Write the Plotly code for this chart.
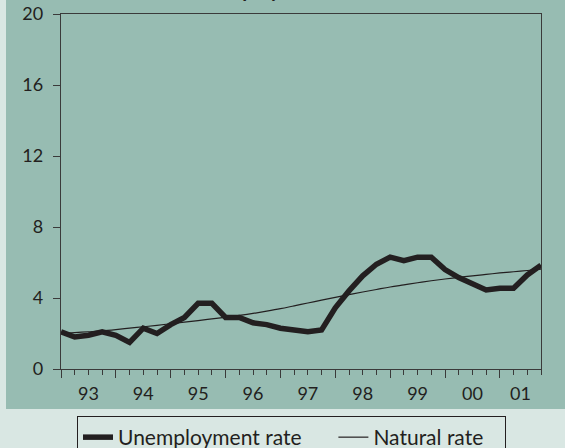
import plotly.graph_objects as go

# Quarterly data, 1993 Q1 .. 2001 Q4
quarters = list(range(36))
unemployment = [2.1, 1.8, 1.9, 2.1, 1.9, 1.5, 2.3, 2.0, 2.5, 2.9, 3.7, 3.7,
                2.9, 2.9, 2.6, 2.5, 2.3, 2.2, 2.1, 2.2, 3.45, 4.4, 5.25, 5.9,
                6.3, 6.1, 6.3, 6.3, 5.6, 5.15, 4.8, 4.45, 4.55, 4.55, 5.3, 5.85]
natural = [2.0, 2.05, 2.1, 2.15, 2.22, 2.3, 2.38, 2.46, 2.55, 2.64, 2.73, 2.82,
           2.92, 3.02, 3.13, 3.26, 3.4, 3.56, 3.72, 3.88, 4.04, 4.19, 4.34, 4.48,
           4.62, 4.74, 4.86, 4.97, 5.07, 5.16, 5.25, 5.33, 5.41, 5.48, 5.55, 5.62]
series_names = ["Unemployment rate", "Natural rate"]
year_labels = ["93", "94", "95", "96", "97", "98", "99", "00", "01"]
year_label_pos = [2, 6, 10, 14, 18, 22, 26, 30, 33.5]
year_starts = [0, 4, 8, 12, 16, 20, 24, 28, 32]
y_ticks = [0, 4, 8, 12, 16, 20]

GREEN = "#97bcb2"
LIGHT = "#d9e7e3"
INK = "#231f20"
AXIS = "#3a3a3a"
FONT = "Lato"
NBSP = "\u00a0"

W, H = 565, 448
ML, MR, MT, MB = 61, 24, 14, 79
pw, ph = W - ML - MR, H - MT - MB

def px2paper_x(p):
    return (p - ML) / pw

def px2paper_y(p):
    return (H - MB - p) / ph

fig = go.Figure()
fig.add_trace(go.Scatter(x=quarters, y=unemployment, mode="lines",
                         name=series_names[0] + NBSP * 5,
                         line=dict(color=INK, width=5.5, shape="linear")))
fig.add_trace(go.Scatter(x=quarters, y=natural, mode="lines",
                         name=series_names[1] + NBSP * 3,
                         line=dict(color=INK, width=1.2, shape="spline")))
# invisible trace to host year labels axis
fig.add_trace(go.Scatter(x=[0, 35], y=[0, 0], xaxis="x2", mode="none",
                         showlegend=False, hoverinfo="skip"))

fig.add_shape(type="rect", xref="paper", yref="paper",
              x0=px2paper_x(6), x1=px2paper_x(W + 5),
              y0=px2paper_y(409), y1=px2paper_y(-5),
              fillcolor=GREEN, line=dict(width=0), layer="below")

fig.add_annotation(text="<b>Unemployment</b>", xref="paper", yref="paper",
                   x=px2paper_x(258), y=1, yanchor="bottom", yshift=11,
                   showarrow=False, font=dict(family=FONT, size=20, color=INK))

fig.update_layout(
    width=W, height=H,
    margin=dict(l=ML, r=MR, t=MT, b=MB, autoexpand=False),
    paper_bgcolor=LIGHT,
    plot_bgcolor="rgba(0,0,0,0)",
    font=dict(family=FONT, color=INK),
    showlegend=True,
    legend=dict(orientation="h", x=px2paper_x(77), xanchor="left",
                y=px2paper_y(416), yanchor="top",
                bgcolor=LIGHT, bordercolor=INK, borderwidth=1,
                font=dict(family=FONT, size=21, color=INK)),
    xaxis=dict(range=[0, 35], showgrid=False, zeroline=False,
               showline=True, linecolor=AXIS, linewidth=1.3, mirror=True,
               tickmode="array", tickvals=year_starts, ticks="outside",
               ticklen=8, tickwidth=1.3, tickcolor=AXIS, showticklabels=False,
               minor=dict(tickmode="linear", tick0=0, dtick=1, ticks="outside",
                          ticklen=5, tickwidth=1.3, tickcolor=AXIS)),
    xaxis2=dict(range=[0, 35], overlaying="x", side="bottom", showgrid=False,
                zeroline=False, showline=False, tickmode="array",
                tickvals=year_label_pos, ticktext=year_labels, ticks="",
                ticklabelstandoff=12,
                tickfont=dict(family=FONT, size=18, color=INK)),
    yaxis=dict(range=[0, 20], tickmode="array", tickvals=y_ticks,
               showgrid=False, zeroline=False, showline=True, linecolor=AXIS,
               linewidth=1.3, mirror=True, ticks="outside", ticklen=7,
               tickwidth=1.3, tickcolor=AXIS, ticklabelstandoff=6,
               tickfont=dict(family=FONT, size=18, color=INK)),
)

fig.write_html("out.html",
               config={"displayModeBar": False},
               post_script="document.body.style.margin='0';"
                           "document.body.style.overflow='hidden';")
